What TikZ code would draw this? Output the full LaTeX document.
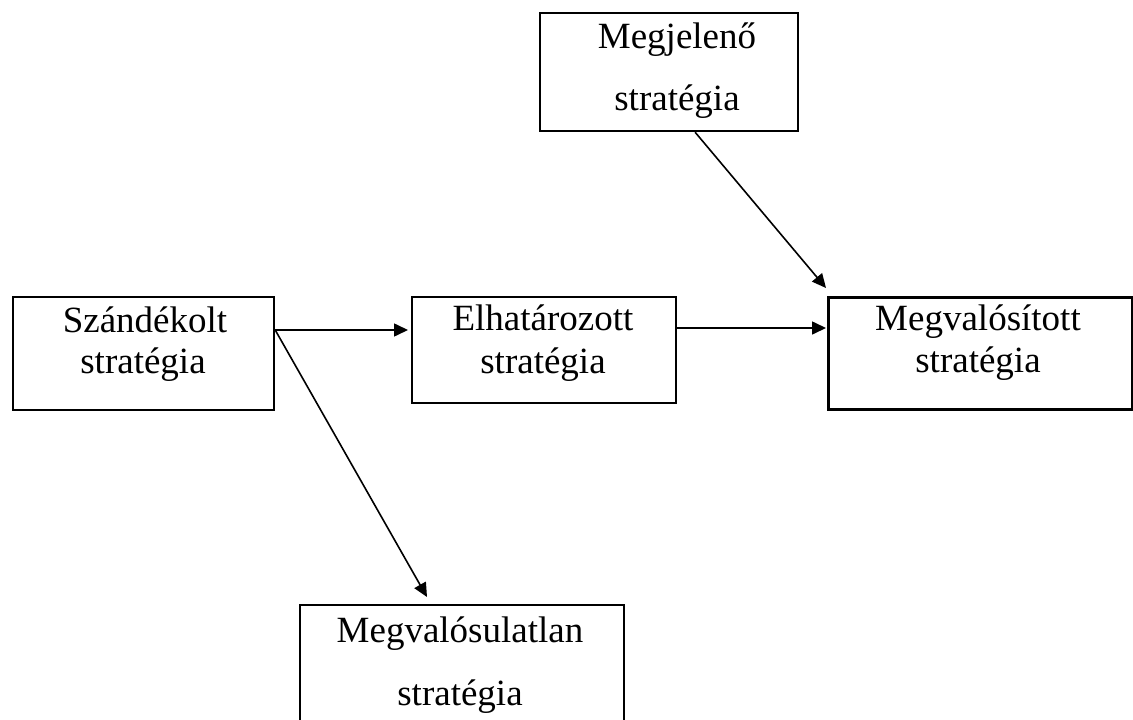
\documentclass[tikz,border=0pt]{standalone}
\usepackage{fontspec}
\setmainfont{Liberation Serif}
\usetikzlibrary{arrows.meta}
\begin{document}
\begin{tikzpicture}[x=1pt,y=-1pt,
  box/.style={draw=black, line width=2.2pt, rectangle, inner sep=0pt, fill=none},
  txt/.style={font=\fontsize{37}{37}\selectfont, inner sep=0pt, anchor=base},
  conn/.style={draw=black, line width=1.6pt, -{Triangle[length=14pt,width=13pt]}}]
\useasboundingbox[fill=white] (0,0) rectangle (1133,720);
% boxes
\node[box, minimum width=258pt, minimum height=118pt, anchor=north west] (mj) at (539,12) {};
\node[box, minimum width=261pt, minimum height=113pt, anchor=north west] (sz) at (12,296) {};
\node[box, minimum width=264pt, minimum height=106pt, anchor=north west] (el) at (411,296) {};
\node[box, line width=2.6pt, minimum width=304pt, minimum height=112pt, anchor=north west] (mv) at (827,296) {};
\node[box, minimum width=324pt, minimum height=130pt, anchor=north west] (mu) at (299,604) {};
% texts
\node[txt] (mjt1) at (677,48) {Megjelenő};
\node[txt] (mjt2) at (677,110) {stratégia};
\node[txt] (szt1) at (145,332) {Szándékolt};
\node[txt] (szt2) at (143,373) {stratégia};
\node[txt] (elt1) at (543,330) {Elhatározott};
\node[txt] (elt2) at (543,373) {stratégia};
\node[txt] (mvt1) at (978,330) {Megvalósított};
\node[txt] (mvt2) at (978,372) {stratégia};
\node[txt] (mut1) at (460,642) {Megvalósulatlan};
\node[txt] (mut2) at (460,705) {stratégia};
% connectors
\draw[conn] ([yshift=-34pt]sz.north east) -- ([shift={(-3pt,-34pt)}]el.north west);
\draw[conn] ([yshift=-32pt]el.north east) -- ([shift={(-1pt,-32pt)}]mv.north west);
\draw[conn] ([xshift=26pt]mj.south) -- ([shift={(-1pt,8pt)}]mv.north west);
\draw[conn] ([yshift=-34pt]sz.north east) -- ([shift={(128pt,7pt)}]mu.north west);
\end{tikzpicture}
\end{document}
